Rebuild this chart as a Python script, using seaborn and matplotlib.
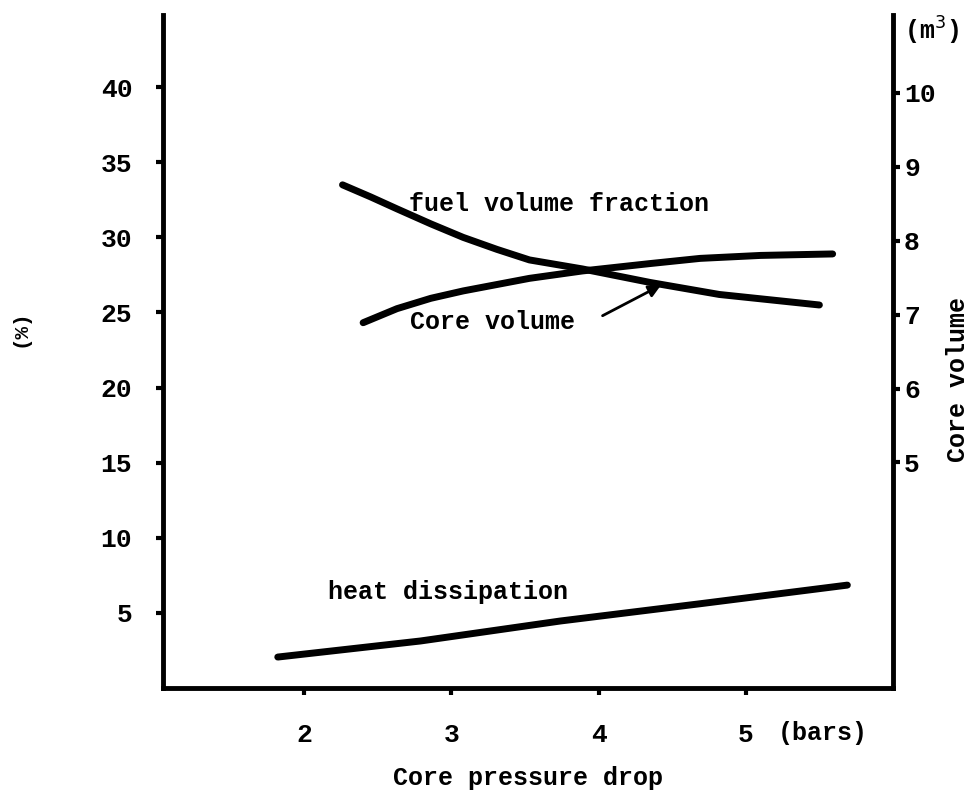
import matplotlib
matplotlib.use("Agg")
import matplotlib.pyplot as plt
import seaborn as sns
import pandas as pd

# Data
fuel_x = [2.26, 2.45, 2.63, 2.86, 3.08, 3.31, 3.53, 3.89, 4.35, 4.82, 5.50]
fuel_y = [33.5, 32.7, 31.9, 30.9, 30.0, 29.2, 28.5, 27.9, 27.0, 26.2, 25.5]

core_x = [2.40, 2.63, 2.86, 3.08, 3.53, 3.89, 4.35, 4.69, 5.10, 5.59]
core_y = [6.89, 7.08, 7.22, 7.32, 7.49, 7.59, 7.69, 7.76, 7.80, 7.82]

heat_x = [1.82, 2.79, 3.74, 4.69, 5.69]
heat_y = [2.06, 3.13, 4.46, 5.61, 6.85]

x_ticks = [2, 3, 4, 5]
left_ticks = [5, 10, 15, 20, 25, 30, 35, 40]
right_ticks = [5, 6, 7, 8, 9, 10]

sns.set_style("ticks")
FONT = ["Liberation Mono", "DejaVu Sans Mono"]
plt.rcParams["font.family"] = FONT
plt.rcParams["text.color"] = "black"
plt.rcParams["axes.labelcolor"] = "black"

fig = plt.figure(figsize=(9.7, 7.95), dpi=100)
ax = fig.add_axes([0.168, 0.1346, 0.7526, 0.8464])
ax2 = ax.twinx()

LW = 5.0
df_fuel = pd.DataFrame({"x": fuel_x, "y": fuel_y})
df_heat = pd.DataFrame({"x": heat_x, "y": heat_y})
df_core = pd.DataFrame({"x": core_x, "y": core_y})

sns.lineplot(data=df_fuel, x="x", y="y", ax=ax, color="black", lw=LW,
             solid_capstyle="round", solid_joinstyle="round")
sns.lineplot(data=df_heat, x="x", y="y", ax=ax, color="black", lw=LW,
             solid_capstyle="round", solid_joinstyle="round")
sns.lineplot(data=df_core, x="x", y="y", ax=ax2, color="black", lw=LW,
             solid_capstyle="round", solid_joinstyle="round")

ax.set_xlim(1.04, 6.0)
ax.set_ylim(0, 44.8)
ax2.set_ylim(1.95, 11.05)

ax.set_xticks(x_ticks)
ax.set_xticklabels([str(t) for t in x_ticks])
ax.set_yticks(left_ticks)
ax.set_yticklabels([str(t) for t in left_ticks])
ax2.set_yticks(right_ticks)
ax2.set_yticklabels([str(t) for t in right_ticks])

for a in (ax, ax2):
    a.spines["top"].set_visible(False)
    for s in ("left", "right", "bottom"):
        a.spines[s].set_linewidth(3.5)
        a.spines[s].set_color("black")
ax.spines["right"].set_visible(False)
ax2.spines["left"].set_visible(False)
ax2.spines["bottom"].set_visible(False)

ax.tick_params(axis="y", direction="out", length=5, width=3, pad=17,
               labelsize=19, colors="black")
ax.tick_params(axis="x", direction="out", length=5, width=3, pad=20,
               labelsize=19, colors="black")
ax2.tick_params(axis="y", direction="out", length=5, width=3, pad=3,
                labelsize=19, colors="black")
for lab in ax.get_xticklabels() + ax.get_yticklabels() + ax2.get_yticklabels():
    lab.set_fontweight("bold")

ax.set_xlabel("Core pressure drop", fontsize=18, fontweight="bold")
ax.xaxis.set_label_coords(0.5, -0.134)
ax.xaxis.label.set_verticalalignment("center")
ax.set_ylabel("(%)", fontsize=15, fontweight="bold")
ax.yaxis.set_label_coords(-0.196, 0.535)
ax.yaxis.label.set_verticalalignment("center")
ax2.set_ylabel("Core volume", fontsize=18, fontweight="bold")
ax2.yaxis.set_label_coords(1.089, 0.458)
ax2.yaxis.label.set_verticalalignment("center")

txt = dict(fontsize=18, fontweight="bold", color="black", ha="left", va="center")
ax.text(2.71, 32.2, "fuel volume fraction", **txt)
ax.text(2.72, 24.35, "Core volume", **txt)
ax.text(2.16, 6.4, "heat dissipation", **txt)
ax.text(5.22, -3.0, "(bars)", fontsize=18, fontweight="bold", ha="left",
        va="center", clip_on=False)
ax2.text(1.015, 1.0, "(m$^3$)", transform=ax2.transAxes, fontsize=18,
         fontweight="bold", ha="left", va="top", clip_on=False)

ax.annotate("", xy=(4.44, 26.9), xytext=(4.01, 24.7),
            arrowprops=dict(arrowstyle="-|>", color="black", lw=2.0,
                            mutation_scale=18))

for a in (ax, ax2):
    a.grid(False)

fig.savefig("out.png", dpi=100)
